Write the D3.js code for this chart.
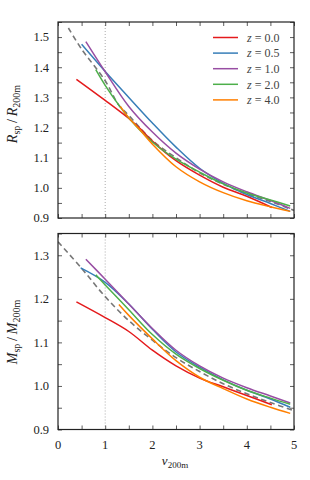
<!DOCTYPE html>
<html>
<head>
<meta charset="utf-8">
<script src="https://cdn.jsdelivr.net/npm/d3@7"></script>
<style>
  body { margin: 0; background: #fff; }
  svg { font-family: "Liberation Serif", "DejaVu Serif", serif; }
</style>
</head>
<body>
<script>
// redshift labels and colours
const redshifts = ["0.0", "0.5", "1.0", "2.0", "4.0"];
const colors = ["#e41a1c", "#377eb8", "#984ea3", "#4daf4a", "#ff7f00"];

// top panel: R_sp / R_200m, [nu, value]
const rRed    = [[0.39,1.36],[1.0,1.29],[1.5,1.23],[1.75,1.195],[2.0,1.155],[2.5,1.09],[3.0,1.042],[3.5,1.002],[4.0,0.972],[4.53,0.935]];
const rBlue   = [[0.5,1.476],[1.0,1.386],[1.5,1.3],[2.0,1.215],[2.5,1.135],[3.0,1.065],[3.5,1.015],[4.0,0.978],[4.5,0.948],[4.92,0.922]];
const rPurple = [[0.59,1.485],[1.0,1.385],[1.5,1.27],[2.0,1.185],[2.5,1.115],[3.0,1.062],[3.5,1.02],[4.0,0.987],[4.5,0.958],[4.92,0.932]];
const rGreen  = [[0.8,1.392],[1.0,1.34],[1.3,1.272],[1.5,1.232],[2.0,1.152],[2.5,1.095],[3.0,1.052],[3.5,1.013],[4.0,0.983],[4.5,0.96],[4.92,0.94]];
const rOrange = [[1.32,1.27],[1.5,1.232],[1.75,1.19],[2.0,1.145],[2.5,1.07],[3.0,1.02],[3.5,0.984],[4.0,0.957],[4.5,0.937],[4.92,0.922]];
const rModel  = [[0.22,1.53],[0.5,1.46],[1.0,1.355],[1.28,1.276],[1.5,1.24],[2.0,1.157],[2.5,1.1],[3.0,1.05],[3.5,1.012],[4.0,0.98],[4.5,0.955],[5.0,0.925]];

// bottom panel: M_sp / M_200m
const mRed    = [[0.39,1.193],[1.0,1.157],[1.5,1.125],[2.0,1.082],[2.5,1.046],[3.0,1.018],[3.5,0.998],[4.0,0.978],[4.53,0.957]];
const mBlue   = [[0.48,1.271],[1.0,1.238],[1.5,1.188],[2.0,1.13],[2.5,1.078],[3.0,1.043],[3.5,1.014],[4.0,0.99],[4.5,0.97],[4.92,0.951]];
const mPurple = [[0.59,1.291],[1.0,1.245],[1.5,1.188],[2.0,1.132],[2.5,1.082],[3.0,1.046],[3.5,1.018],[4.0,0.996],[4.5,0.977],[4.92,0.961]];
const mGreen  = [[0.8,1.255],[1.0,1.232],[1.5,1.175],[2.0,1.118],[2.5,1.073],[3.0,1.04],[3.5,1.013],[4.0,0.99],[4.5,0.972],[4.92,0.958]];
const mOrange = [[1.29,1.187],[1.5,1.162],[2.0,1.108],[2.5,1.058],[3.0,1.02],[3.5,0.994],[4.0,0.97],[4.5,0.951],[4.92,0.937]];
const mModel  = [[0.0,1.331],[0.5,1.27],[1.0,1.205],[1.5,1.15],[2.0,1.105],[2.5,1.065],[3.0,1.033],[3.5,1.005],[4.0,0.982],[4.5,0.962],[5.0,0.943]];

// tick labels
const xTicks = [0, 1, 2, 3, 4, 5];
const rTicks = [0.9, 1.0, 1.1, 1.2, 1.3, 1.4, 1.5];
const mTicks = [0.9, 1.0, 1.1, 1.2, 1.3];

const width = 310, height = 480;
const left = 58, right = 294;

const svg = d3.select("body").append("svg")
  .attr("width", width)
  .attr("height", height);

const x = d3.scaleLinear().domain([0, 5]).range([left, right]);

const panels = [
  { top: 22, bottom: 218, domain: [0.9, 1.55], ticks: rTicks,
    series: [rRed, rBlue, rPurple, rGreen, rOrange], model: rModel,
    sym: "R", labelY: 114, legend: true },
  { top: 233.5, bottom: 429.5, domain: [0.9, 1.35], ticks: mTicks,
    series: [mRed, mBlue, mPurple, mGreen, mOrange], model: mModel,
    sym: "M", labelY: 332, legend: false }
];

panels.forEach(p => {
  const y = d3.scaleLinear().domain(p.domain).range([p.bottom, p.top]);
  const g = svg.append("g");
  const clipId = "clip" + p.sym;

  svg.append("clipPath").attr("id", clipId)
    .append("rect")
    .attr("x", left).attr("y", p.top)
    .attr("width", right - left).attr("height", p.bottom - p.top);

  // dotted line at nu = 1
  g.append("line")
    .attr("x1", x(1)).attr("x2", x(1))
    .attr("y1", p.top).attr("y2", p.bottom)
    .attr("stroke", "#aaa")
    .attr("stroke-width", 1)
    .attr("stroke-dasharray", "1,2");

  // ticks on all four sides, pointing inward
  const minorY = d3.range(p.domain[0], p.domain[1] + 0.001, 0.05);
  const minorX = d3.range(0, 5.001, 0.5);
  g.append("g").attr("transform", `translate(${left},0)`)
    .call(d3.axisRight(y).tickValues(minorY).tickSize(4).tickFormat(""));
  g.append("g").attr("transform", `translate(${right},0)`)
    .call(d3.axisLeft(y).tickValues(minorY).tickSize(4).tickFormat(""));
  g.append("g").attr("transform", `translate(0,${p.bottom})`)
    .call(d3.axisTop(x).tickValues(minorX).tickSize(4).tickFormat(""));
  g.append("g").attr("transform", `translate(0,${p.top})`)
    .call(d3.axisBottom(x).tickValues(minorX).tickSize(4).tickFormat(""));
  g.selectAll(".domain").remove();
  g.selectAll(".tick line").attr("stroke", "#333").attr("stroke-width", 0.8);

  // y tick labels
  g.selectAll(".ylab")
    .data(p.ticks)
    .enter()
    .append("text")
    .attr("x", left - 9)
    .attr("y", d => y(d))
    .attr("dy", "0.35em")
    .attr("text-anchor", "end")
    .attr("font-size", 12.5)
    .attr("fill", "#222")
    .text(d => d.toFixed(1));

  const line = d3.line()
    .x(d => x(d[0]))
    .y(d => y(d[1]))
    .curve(d3.curveCatmullRom.alpha(0.5));

  const curves = g.append("g").attr("clip-path", `url(#${clipId})`);

  curves.append("path")
    .attr("d", line(p.model))
    .attr("fill", "none")
    .attr("stroke", "#777")
    .attr("stroke-width", 1.6)
    .attr("stroke-dasharray", "5.5,3.5");

  p.series.forEach((s, i) => {
    curves.append("path")
      .attr("d", line(s))
      .attr("fill", "none")
      .attr("stroke", colors[i])
      .attr("stroke-width", 1.5);
  });

  // frame
  g.append("rect")
    .attr("x", left).attr("y", p.top)
    .attr("width", right - left).attr("height", p.bottom - p.top)
    .attr("fill", "none")
    .attr("stroke", "#222")
    .attr("stroke-width", 1.2);

  // y label
  const lab = svg.append("text")
    .attr("transform", `translate(17,${p.labelY}) rotate(-90)`)
    .attr("text-anchor", "middle")
    .attr("font-size", 14)
    .attr("fill", "#222");
  lab.append("tspan").attr("font-style", "italic").text(p.sym);
  lab.append("tspan").attr("font-size", 10).attr("dy", 3).text("sp");
  lab.append("tspan").attr("dy", -3).text("\u2009/\u2009");
  lab.append("tspan").attr("font-style", "italic").text(p.sym);
  lab.append("tspan").attr("font-size", 10).attr("dy", 3).text("200m");

  if (p.legend) {
    const leg = svg.append("g");
    redshifts.forEach((z, i) => {
      const ly = 37.5 + i * 15.6;
      leg.append("line")
        .attr("x1", 213).attr("x2", 238)
        .attr("y1", ly).attr("y2", ly)
        .attr("stroke", colors[i])
        .attr("stroke-width", 1.5);
      const t = leg.append("text")
        .attr("x", 247).attr("y", ly)
        .attr("dy", "0.35em")
        .attr("font-size", 12)
        .attr("fill", "#444");
      t.append("tspan").attr("font-style", "italic").text("z");
      t.append("tspan").text(" = " + z);
    });
  }
});

// x tick labels under bottom panel
svg.selectAll(".xlab")
  .data(xTicks)
  .enter()
  .append("text")
  .attr("x", d => x(d))
  .attr("y", 448.5)
  .attr("text-anchor", "middle")
  .attr("font-size", 12.5)
  .attr("fill", "#222")
  .text(d => d);

// x label
const xl = svg.append("text")
  .attr("x", 175).attr("y", 465)
  .attr("text-anchor", "middle")
  .attr("font-size", 13)
  .attr("fill", "#222");
xl.append("tspan").attr("font-style", "italic").text("\u03bd");
xl.append("tspan").attr("font-size", 9).attr("dy", 3).text("200m");
</script>
</body>
</html>
